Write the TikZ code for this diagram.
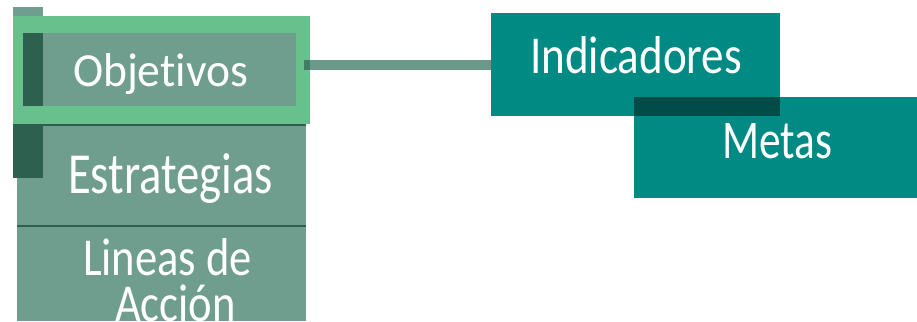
\documentclass[tikz,border=0pt]{standalone}
\usepackage{fontspec}
\setmainfont{Carlito}[Ligatures=NoCommon]
\usepackage{graphicx}
\definecolor{boxg}{RGB}{111,158,143}
\definecolor{frameg}{RGB}{104,192,140}
\definecolor{darkg}{RGB}{46,96,80}
\definecolor{connc}{RGB}{106,152,137}
\definecolor{connd}{RGB}{66,124,104}
\definecolor{tealbox}{RGB}{0,138,132}
\definecolor{tealdark}{RGB}{0,76,72}
\newsavebox\lbox
\tikzset{
  blk/.style={rectangle, draw=none, inner sep=0pt, outer sep=0pt, anchor=north west},
  txt/.style={inner sep=0pt, outer sep=0pt, text=white, font=\fontsize{40}{48}\selectfont},
  conn/.style={draw=connc, line width=10pt}
}
\begin{document}
\sbox\lbox{\fontsize{40}{48}\selectfont Lineas de}%
\pgfmathsetmacro\lsx{169/\the\wd\lbox}%
\pgfmathsetmacro\lsy{37/\the\ht\lbox}%
\begin{tikzpicture}[x=1pt,y=-1pt]
\useasboundingbox (0,0) rectangle (917,321);
% left column
\node[blk, fill=boxg, minimum width=30pt, minimum height=10pt] (tab) at (13,7) {};
\node[blk, fill=frameg, minimum width=297pt, minimum height=108pt] (frame) at (13,16) {};
\node[blk, fill=boxg, minimum width=273pt, minimum height=73pt] (objbox) at (23,33) {};
\node[blk, fill=darkg, minimum width=20pt, minimum height=73pt] (objstrip) at (23,33) {};
\node[blk, fill=boxg, minimum width=289pt, minimum height=103pt] (estbox) at (17,124) {};
\node[blk, fill=darkg, minimum width=289pt, minimum height=2pt] (esttop) at (17,124) {};
\node[blk, fill=darkg, minimum width=30pt, minimum height=54pt] (eststrip) at (13,124) {};
\node[blk, fill=boxg, minimum width=289pt, minimum height=95pt] (linbox) at (17,226) {};
\node[blk, fill=darkg, minimum width=289pt, minimum height=2pt] (sep) at (17,225) {};
% right boxes
\node[blk, fill=tealbox, minimum width=289pt, minimum height=103pt] (ind) at (491,13) {};
\node[blk, fill=tealbox, minimum width=283pt, minimum height=101pt] (met) at (634,97) {};
\node[blk, fill=tealdark, minimum width=146pt, minimum height=19pt] (ovl) at (634,97) {};
% connector
\draw[conn] ([xshift=-6pt]ind.west -| frame.east) -- (ind.west);
\draw[draw=connd, line width=10pt] ([xshift=-6pt]ind.west -| frame.east) -- (ind.west -| frame.east);
% texts
\node[txt, anchor=base west] (tobj) at (73,86) {\resizebox{175pt}{33pt}{Objetivos}};
\node[txt, anchor=base west] (test) at (68,193) {\resizebox{205pt}{40pt}{Estrategias}};
\node[txt, anchor=base west] (tlin) at (83,275) {\resizebox{169pt}{37pt}{Lineas de}};
\node[txt, anchor=base west] (tacc) at (115,321) {\scalebox{\lsx}[\lsy]{Acción}};
\node[txt, anchor=base west] (tind) at (530,74) {\resizebox{212pt}{37pt}{Indicadores}};
\node[txt, anchor=base west] (tmet) at (722,158) {\resizebox{110pt}{35pt}{Metas}};
\end{tikzpicture}
\end{document}
